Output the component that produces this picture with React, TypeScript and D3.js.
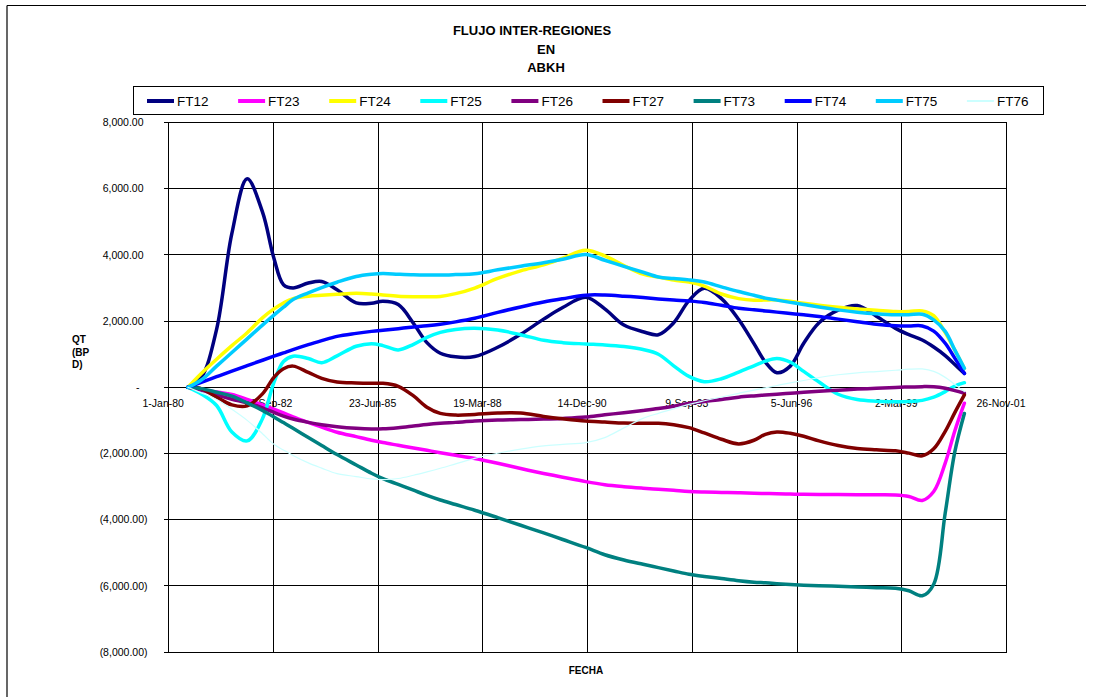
import React from "react";
import * as d3 from "d3";

// Sample times (decimal years) shared by every series
const years = [
  1980.5, 1980.85, 1981.25, 1981.65, 1982.05, 1982.45, 1982.75, 1983.0, 1983.25, 1983.65,
  1984.0, 1984.4, 1984.9, 1985.3, 1985.6, 1986.0, 1986.4, 1986.75, 1987.1, 1987.5,
  1988.0, 1988.6, 1989.2, 1989.8, 1990.3, 1990.9, 1991.4, 1991.9, 1992.4, 1992.8,
  1993.2, 1993.6, 1994.0, 1994.45, 1994.9, 1995.3, 1995.6, 1995.9, 1996.25, 1996.6,
  1997.0, 1997.5, 1998.0, 1998.5, 1999.0, 1999.35, 1999.7, 2000.0, 2000.3, 2000.55,
  2000.8,
];

const FT12 = [
  0, 300, 1750, 4650, 6300, 5300, 3900, 3100, 3000, 3150,
  3200, 2950, 2550, 2540, 2600, 2500, 1930, 1350, 1030, 920,
  930, 1210, 1600, 2060, 2410, 2720, 2370, 1880, 1680, 1590,
  1950, 2620, 2990, 2680, 2050, 1320, 760, 440, 640, 1330,
  1950, 2330, 2470, 2150, 1780, 1590, 1430, 1220, 960, 690,
  420,
];
const FT23 = [
  0, -66, -143, -219, -365, -528, -658, -772, -893, -1063,
  -1206, -1358, -1492, -1598, -1670, -1752, -1834, -1905, -1976, -2055,
  -2154, -2298, -2455, -2603, -2716, -2850, -2943, -3003, -3049, -3081,
  -3113, -3146, -3163, -3176, -3189, -3200, -3209, -3217, -3228, -3234,
  -3239, -3243, -3246, -3250, -3256, -3300, -3420, -3150, -2290, -1320,
  -480,
];
const FT24 = [
  0, 420, 850, 1260, 1650, 2100, 2370, 2550, 2680, 2750,
  2780, 2810, 2840, 2820, 2790, 2755, 2740, 2735, 2745, 2830,
  3000, 3290, 3520, 3700, 3900, 4140, 3970, 3680, 3420, 3330,
  3240, 3180, 3060, 2820, 2680, 2630, 2640, 2640, 2600, 2540,
  2480, 2420, 2370, 2330, 2290, 2290, 2310, 2165, 1650, 1120,
  570,
];
const FT25 = [
  0, -200, -550, -1350, -1620, -950, 150, 780, 940, 870,
  745, 950, 1240, 1320, 1260, 1130, 1300, 1510, 1660, 1750,
  1785, 1730, 1590, 1420, 1350, 1310, 1280, 1230, 1140, 1000,
  650, 330, 170, 260, 460, 650, 790, 870, 760, 480,
  160, -210, -370, -420, -435, -430, -395, -300, -130, 40,
  140,
];
const FT26 = [
  0, -80, -230, -360, -470, -620, -760, -870, -960, -1060,
  -1130, -1190, -1240, -1260, -1255, -1220, -1170, -1125, -1090, -1060,
  -1020, -990, -975, -960, -940, -900, -830, -770, -700, -640,
  -570, -490, -430, -370, -300, -260, -235, -210, -180, -150,
  -120, -90, -55, -30, -5, 10, 20, 15, -30, -100,
  -180,
];
const FT27 = [
  0, -40, -300, -530, -560, -200, 300, 560, 640, 450,
  270, 160, 130, 120, 120, 30, -260, -600, -790, -840,
  -820, -780, -780, -880, -950, -1020, -1050, -1080, -1090, -1085,
  -1130, -1220, -1380, -1570, -1710, -1600, -1420, -1350, -1390, -1480,
  -1620, -1760, -1850, -1890, -1920, -1990, -2070, -1860, -1330, -765,
  -230,
];
const FT73 = [
  0, -40, -150, -264, -470, -700, -895, -1067, -1240, -1520,
  -1760, -2033, -2346, -2596, -2759, -2935, -3111, -3265, -3405, -3543,
  -3715, -3940, -4170, -4400, -4600, -4840, -5060, -5220, -5350, -5450,
  -5550, -5650, -5715, -5780, -5845, -5890, -5910, -5935, -5960, -5980,
  -5995, -6015, -6035, -6055, -6075, -6150, -6300, -5950, -3800, -1950,
  -790,
];
const FT74 = [
  0, 150, 320, 490, 655, 818, 940, 1040, 1140, 1290,
  1410, 1540, 1630, 1690, 1727, 1773, 1820, 1860, 1908, 1978,
  2087, 2265, 2429, 2576, 2677, 2785, 2788, 2755, 2711, 2672,
  2636, 2607, 2563, 2477, 2390, 2342, 2307, 2272, 2232, 2191,
  2142, 2060, 1982, 1907, 1860, 1852, 1855, 1700, 1330, 880,
  420,
];
const FT75 = [
  0, 220, 640, 1050, 1465, 1880, 2180, 2420, 2650, 2855,
  3015, 3175, 3348, 3416, 3440, 3418, 3400, 3393, 3393, 3407,
  3430, 3550, 3660, 3766, 3870, 4015, 3840, 3656, 3478, 3335,
  3287, 3247, 3180, 3036, 2895, 2780, 2695, 2635, 2567, 2500,
  2424, 2340, 2271, 2220, 2190, 2195, 2210, 2040, 1690, 1130,
  574,
];
const FT76 = [
  0, -169, -366, -666, -1000, -1402, -1723, -1895, -2059, -2285,
  -2443, -2609, -2698, -2770, -2789, -2756, -2657, -2555, -2447, -2313,
  -2146, -1994, -1869, -1772, -1726, -1672, -1520, -1227, -938, -786,
  -650, -516, -407, -294, -181, -84, -15, 54, 134, 205,
  296, 380, 438, 476, 515, 547, 554, 480, 300, 85,
  -130,
];

const seriesNames = ["FT12", "FT23", "FT24", "FT25", "FT26", "FT27", "FT73", "FT74", "FT75", "FT76"];
const seriesValues = [FT12, FT23, FT24, FT25, FT26, FT27, FT73, FT74, FT75, FT76];
const seriesColors = ["#000080", "#FF00FF", "#FFFF00", "#00FFFF", "#800080", "#800000", "#008080", "#0000FF", "#00CCFF", "#CCFFFF"];
const seriesWidths = [3.5, 3.5, 3.5, 3.5, 3.5, 3.5, 3.5, 3.5, 3.5, 1.2];

const yTicks = [-8000, -6000, -4000, -2000, 0, 2000, 4000, 6000, 8000];
const xTickLabels = ["1-Jan-80", "27-Sep-82", "23-Jun-85", "19-Mar-88", "14-Dec-90", "9-Sep-93", "5-Jun-96", "2-Mar-99", "26-Nov-01"];
const xTickStepDays = 1000;

const titleLines = ["FLUJO INTER-REGIONES", "EN", "ABKH"];
const yTitleLines = ["QT", "(BP", "D)"];
const xTitle = "FECHA";

const FONT = "Arial, 'Liberation Sans', sans-serif";

function yearToDate(y: number): Date {
  const yr = Math.floor(y);
  const s = new Date(yr, 0, 1).getTime();
  const e = new Date(yr + 1, 0, 1).getTime();
  return new Date(s + (y - yr) * (e - s));
}

export default function App() {
  const W = 1094;
  const H = 697;
  const plotLeft = 168.7;
  const plotRight = 1006.5;
  const plotTop = 122.6;
  const plotBottom = 652;

  const startDate = new Date(1980, 0, 1);
  const endDate = d3.timeDay.offset(startDate, xTickStepDays * (xTickLabels.length - 1));
  const x = d3.scaleTime().domain([startDate, endDate]).range([plotLeft, plotRight]);
  const y = d3.scaleLinear().domain([-8000, 8000]).range([plotBottom, plotTop]);

  const xTicks = xTickLabels.map((_, i) => d3.timeDay.offset(startDate, i * xTickStepDays));
  const fmt = d3.format(",.2f");

  const line = d3
    .line<[Date, number]>()
    .x((d) => x(d[0]))
    .y((d) => y(d[1]))
    .curve(d3.curveCatmullRom.alpha(0.5));

  const dates = years.map(yearToDate);

  const legendX0 = 147;
  const legendStep = 91.1;

  return (
    <svg
      width={W}
      height={H}
      style={{ position: "absolute", left: 0, top: 0, background: "#fff" }}
      fontFamily={FONT}
    >
      <rect x={0} y={0} width={W} height={H} fill="#fff" />
      {/* chart area frame */}
      <line x1={7} y1={5.5} x2={1086} y2={5.5} stroke="#000" strokeWidth={1.2} />
      <line x1={7} y1={5.5} x2={7} y2={H} stroke="#000" strokeWidth={1.2} />

      {/* title */}
      <text x={532} y={34.5} textAnchor="middle" fontWeight="bold" fontSize={13}>{titleLines[0]}</text>
      <text x={546} y={53.5} textAnchor="middle" fontWeight="bold" fontSize={13}>{titleLines[1]}</text>
      <text x={546} y={71.5} textAnchor="middle" fontWeight="bold" fontSize={13}>{titleLines[2]}</text>

      {/* legend */}
      <rect x={133.5} y={86.5} width={910} height={28} fill="#fff" stroke="#000" strokeWidth={1} />
      {seriesNames.map((name, i) => {
        const lx = legendX0 + i * legendStep;
        return (
          <g key={name}>
            <line
              x1={lx}
              x2={lx + 27}
              y1={101}
              y2={101}
              stroke={seriesColors[i]}
              strokeWidth={i === 9 ? 2 : 4}
            />
            <text x={lx + 30} y={106} fontSize={13.5} fill="#000">{name}</text>
          </g>
        );
      })}

      {/* grid */}
      <g shapeRendering="crispEdges">
        {yTicks.map((t) => (
          <line key={"h" + t} x1={plotLeft} x2={plotRight} y1={y(t)} y2={y(t)} stroke="#000" strokeWidth={1} />
        ))}
        {xTicks.map((d, i) => (
          <line key={"v" + i} x1={x(d)} x2={x(d)} y1={plotTop} y2={plotBottom} stroke="#000" strokeWidth={1} />
        ))}
        {yTicks.map((t) => (
          <line key={"t" + t} x1={plotLeft - 5} x2={plotLeft} y1={y(t)} y2={y(t)} stroke="#000" strokeWidth={1} />
        ))}
      </g>

      {/* y tick labels */}
      {yTicks.map((t) => {
        const label = t > 0 ? fmt(t) : t < 0 ? `(${fmt(-t)})` : "-";
        const ex = t > 0 ? 143.5 : t < 0 ? 147.5 : 139.5;
        return (
          <text key={"yl" + t} x={ex} y={y(t) + 3.7} textAnchor="end" fontSize={10.5} fill="#000">
            {label}
          </text>
        );
      })}

      {/* x tick labels */}
      {xTicks.map((d, i) => (
        <text key={"xl" + i} x={x(d) - 5.5} y={y(0) + 19.5} textAnchor="middle" fontSize={10.5} fill="#000">
          {xTickLabels[i]}
        </text>
      ))}

      {/* axis titles */}
      {yTitleLines.map((s, i) => (
        <text key={"yt" + i} x={72} y={343 + i * 12.5} fontWeight="bold" fontSize={10} fill="#000">{s}</text>
      ))}
      <text x={586} y={674} textAnchor="middle" fontWeight="bold" fontSize={10} fill="#000">{xTitle}</text>

      {/* series */}
      {seriesValues.map((vals, si) => {
        const pts: [Date, number][] = vals.map((v, i) => [dates[i], v]);
        return (
          <path
            key={seriesNames[si]}
            d={line(pts) || ""}
            fill="none"
            stroke={seriesColors[si]}
            strokeWidth={seriesWidths[si]}
            strokeLinejoin="round"
            strokeLinecap="round"
          />
        );
      })}
    </svg>
  );
}
